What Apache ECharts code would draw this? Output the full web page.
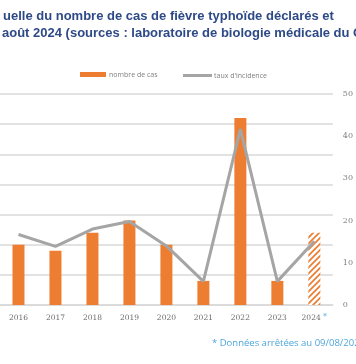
<!DOCTYPE html>
<html><head><meta charset="utf-8">
<script src="https://cdn.jsdelivr.net/npm/echarts@6/dist/echarts.min.js"></script>
<style>html,body{margin:0;padding:0;background:#fff}#c{width:356px;height:364px}</style>
</head><body><div id="c"></div>
<script>
const categories = ['2016','2017','2018','2019','2020','2021','2022','2023','2024'];
const nombreDeCas = [10, 9, 12, 14, 10, 4, 31, 4, 12];
const tauxIncidence = [16.7, 13.9, 18, 19.8, 14, 5.6, 41.7, 5.6, 15.1];
const rightTicks = [0, 10, 20, 30, 40, 50];
const titleLines = ['uelle du nombre de cas de fièvre typhoïde déclarés et', 'août 2024 (sources : laboratoire de biologie médicale du C'];
const footnote = '* Données arrêtées au 09/08/2024';

const pc = document.createElement('canvas');
pc.width = 6; pc.height = 6;
const g = pc.getContext('2d');
g.fillStyle = '#ffffff'; g.fillRect(0,0,6,6);
g.strokeStyle = '#ed7d31'; g.lineWidth = 1.7;
g.beginPath();
g.moveTo(-1,7); g.lineTo(7,-1);
g.moveTo(-4,4); g.lineTo(4,-4);
g.moveTo(2,10); g.lineTo(10,2);
g.stroke();

const barData = nombreDeCas.map((v,i) => i === categories.length-1 ? {value:v, itemStyle:{color:{image:pc, repeat:'repeat'}}} : v);

const chart = echarts.init(document.getElementById('c'), null, {renderer:'canvas'});
chart.setOption({
  animation:false,
  backgroundColor:'#fff',
  graphic:[
    {type:'text', left:3, top:10, style:{text:titleLines[0], font:'bold 13px "Liberation Sans", Arial, sans-serif', fill:'#2e4a86', letterSpacing:0.3}},
    {type:'text', left:2, top:27, style:{text:titleLines[1], font:'bold 13px "Liberation Sans", Arial, sans-serif', fill:'#2e4a86'}},
    {type:'text', left:212, top:338, style:{text:footnote, font:'9.5px "Open Sans", sans-serif', fill:'#4da6db'}}
  ],
  legend:[
    {data:['nombre de cas'], left:80, top:71, padding:0, itemWidth:26, itemHeight:5, itemGap:4, icon:'rect',
     textStyle:{fontSize:7, color:'#808080', fontFamily:'"Open Sans", sans-serif', padding:[0,0,0,-2]}},
    {data:["taux d'incidence"], left:183, top:72, padding:0, itemWidth:29, itemHeight:3, icon:'rect',
     textStyle:{fontSize:7, color:'#808080', fontFamily:'"Open Sans", sans-serif', padding:[0,0,0,-3]}}
  ],
  grid:{left:-5, right:22, top:94, bottom:59, containLabel:false},
  xAxis:{type:'category', data:categories,
    axisLine:{lineStyle:{color:'#d9d9d9', width:1.5}}, axisTick:{show:false},
    axisLabel:{interval:0, margin:8, fontSize:7.5, lineHeight:10, color:'#6b6b6b', fontFamily:'"DejaVu Serif", serif',
      formatter:(v)=> v==='2024' ? '2024 {s|*}' : v,
      rich:{s:{color:'#4da6db', fontSize:8, lineHeight:10, verticalAlign:'top'}}}},
  yAxis:[
    {type:'value', min:0, max:35, interval:5, position:'left', axisLabel:{show:false}, axisLine:{show:false}, axisTick:{show:false},
     splitLine:{lineStyle:{color:'#d9d9d9', width:1.5}}},
    {type:'value', min:rightTicks[0], max:rightTicks[rightTicks.length-1], interval:10, position:'right',
     axisLine:{show:false}, axisTick:{show:false}, splitLine:{show:false},
     axisLabel:{margin:10, fontSize:8, color:'#808080', fontFamily:'"DejaVu Serif", serif'}}
  ],
  series:[
    {name:'nombre de cas', type:'bar', yAxisIndex:0, data:barData, barWidth:12, itemStyle:{color:'#ed7d31'}, z:2},
    {name:"taux d'incidence", type:'line', yAxisIndex:1, data:tauxIncidence, symbol:'none',
     lineStyle:{color:'#a5a5a5', width:3}, itemStyle:{color:'#a5a5a5'}, z:3}
  ]
});
</script></body></html>
